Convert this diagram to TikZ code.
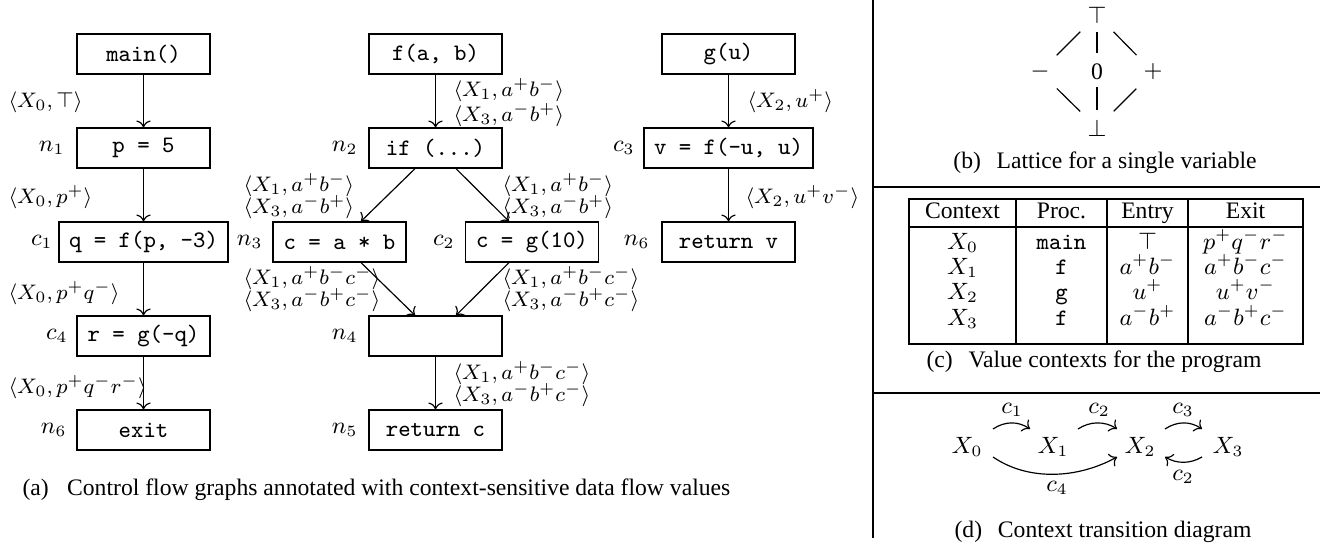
\documentclass[tikz,border=0pt]{standalone}
\usepackage{fontspec}
\setmainfont{Liberation Serif}
\usetikzlibrary{arrows.meta}
\begin{document}
\begin{tikzpicture}[x=0.38066pt,y=0.38066pt,
  box/.style={draw,line width=0.5pt,minimum width=50.63pt,minimum height=15.23pt,inner xsep=3.8pt,inner ysep=0pt,font=\fontsize{9}{10}\ttfamily},
  lab/.style={font=\fontsize{9}{10}\selectfont,inner sep=0pt},
  elab/.style={font=\fontsize{8.3}{9}\selectfont,inner sep=0pt,anchor=west},
  arr/.style={->,line width=0.45pt},
  captxt/.style={font=\fontsize{9}{10}\selectfont,inner sep=0pt},
  sep/.style={line width=0.5pt},
  lat/.style={line width=0.45pt},
  cell/.style={font=\fontsize{9}{10}\selectfont,inner sep=0pt,text height=6.3pt,text depth=1.8pt},
]
\useasboundingbox (0,0) rectangle (1324,546);

% ---------------- (a) column 1 ----------------
\node[box] (main) at (143.5,492) {main()};
\node[box] (n1b)  at (143.5,398) {p = 5};
\node[box] (c1b)  at (143.5,304) {q = f(p, -3)};
\node[box] (c4b)  at (143.5,210) {r = g(-q)};
\node[box] (exb)  at (143.5,116) {exit};
\node[lab,anchor=east] (ln1) at (65,398) {$n_1$};
\node[lab,anchor=east] (lc1) at (53,304) {$c_1$};
\node[lab,anchor=east] (lc4) at (68,210) {$c_4$};
\node[lab,anchor=east] (ln6a) at (67,116) {$n_6$};
\draw[arr] (main) -- (n1b);
\draw[arr] (n1b) -- (c1b);
\draw[arr] (c1b) -- (c4b);
\draw[arr] (c4b) -- (exb);
\node[elab] (e1) at (8,444) {$\langle X_0, \top\rangle$};
\node[elab] (e2) at (8,349) {$\langle X_0, p^+\rangle$};
\node[elab] (e3) at (8,253) {$\langle X_0, p^+q^-\rangle$};
\node[elab] (e4) at (8,159) {$\langle X_0, p^+q^-r^-\rangle$};

% ---------------- (a) column 2 ----------------
\node[box] (fab) at (435.5,492) {f(a, b)};
\node[box] (ifb) at (435.5,398) {if (...)};
\node[box] (n3b) at (339.5,304) {c = a * b};
\node[box] (c2b) at (532,304) {c = g(10)};
\node[box] (n4b) at (435.5,210) {};
\node[box] (n5b) at (435.5,116) {return c};
\node[lab,anchor=east] (ln2) at (358,398) {$n_2$};
\node[lab,anchor=east] (ln3) at (263,304) {$n_3$};
\node[lab,anchor=east] (lc2) at (455,304) {$c_2$};
\node[lab,anchor=east] (ln4) at (358,210) {$n_4$};
\node[lab,anchor=east] (ln5) at (358,116) {$n_5$};
\draw[arr] (fab) -- (ifb);
\draw[arr] ([shift={(-20.5,0)}]ifb.south) -- ([shift={(21.5,0)}]n3b.north);
\draw[arr] ([shift={(20.5,0)}]ifb.south) -- ([shift={(-23,0)}]c2b.north);
\draw[arr] ([shift={(21.5,0)}]n3b.south) -- ([shift={(-20.5,0)}]n4b.north);
\draw[arr] ([shift={(-23,0)}]c2b.south) -- ([shift={(20.5,0)}]n4b.north);
\draw[arr] (n4b) -- (n5b);
\node[elab] (f1) at (453,456) {$\langle X_1, a^+b^-\rangle$};
\node[elab] (f2) at (453,431) {$\langle X_3, a^-b^+\rangle$};
\node[elab] (l1) at (243,361) {$\langle X_1, a^+b^-\rangle$};
\node[elab] (l2) at (243,339) {$\langle X_3, a^-b^+\rangle$};
\node[elab] (r1) at (502,361) {$\langle X_1, a^+b^-\rangle$};
\node[elab] (r2) at (502,339) {$\langle X_3, a^-b^+\rangle$};
\node[elab] (l3) at (243,268) {$\langle X_1, a^+b^-c^-\rangle$};
\node[elab] (l4) at (243,246) {$\langle X_3, a^-b^+c^-\rangle$};
\node[elab] (r3) at (502,268) {$\langle X_1, a^+b^-c^-\rangle$};
\node[elab] (r4) at (502,246) {$\langle X_3, a^-b^+c^-\rangle$};
\node[elab] (b1) at (453,173) {$\langle X_1, a^+b^-c^-\rangle$};
\node[elab] (b2) at (453,151) {$\langle X_3, a^-b^+c^-\rangle$};

% ---------------- (a) column 3 ----------------
\node[box] (gub) at (728.5,492) {g(u)};
\node[box] (c3b) at (728.5,398) {v = f(-u, u)};
\node[box] (rvb) at (728.5,304) {return v};
\node[lab,anchor=east] (lc3) at (635,398) {$c_3$};
\node[lab,anchor=east] (ln6c) at (650,304) {$n_6$};
\draw[arr] (gub) -- (c3b);
\draw[arr] (c3b) -- (rvb);
\node[elab] (g1) at (747,445) {$\langle X_2, u^+\rangle$};
\node[elab] (g2) at (745,349) {$\langle X_2, u^+v^-\rangle$};

\node[captxt,anchor=west] (capa) at (22,56) {(a)\hspace{7pt}Control flow graphs annotated with context-sensitive data flow values};

% ---------------- separators ----------------
\draw[sep] (873,546) -- (873,8);
\draw[sep] (873,359) -- (1320,359);
\draw[sep] (873,153) -- (1320,153);

% ---------------- (b) lattice ----------------
\node[lab] (top)  at (1097,531) {$\top$};
\node[lab] (zero) at (1097,474) {0};
\node[lab] (mns)  at (1040,474) {$-$};
\node[lab] (pls)  at (1153,474) {$+$};
\node[lab] (bot)  at (1097,418) {$\bot$};
\draw[lat,shorten <=6.5pt,shorten >=7.2pt] (top.center) -- (zero.center);
\draw[lat,shorten <=5.7pt,shorten >=6.9pt] (zero.center) -- (bot.center);
\draw[lat,shorten <=9pt,shorten >=9pt] (top.center) -- (mns.center);
\draw[lat,shorten <=9pt,shorten >=9pt] (top.center) -- (pls.center);
\draw[lat,shorten <=9pt,shorten >=9pt] (mns.center) -- (bot.center);
\draw[lat,shorten <=9pt,shorten >=9pt] (pls.center) -- (bot.center);
\node[captxt] (capb) at (1105,383) {(b)\hspace{6pt}Lattice for a single variable};

% ---------------- (c) table ----------------
\draw[sep] (909,347) rectangle (1303,202);
\draw[sep] (909,319) -- (1303,319);
\draw[sep] (1016,347) -- (1016,202);
\draw[sep] (1107,347) -- (1107,202);
\draw[sep] (1188,347) -- (1188,202);
\node[cell] (h1) at (962.5,333) {Context};
\node[cell] (h2) at (1061.5,333) {Proc.};
\node[cell] (h3) at (1147.5,333) {Entry};
\node[cell] (h4) at (1245.5,333) {Exit};
\node[cell] (a1) at (962.5,302) {$X_0$};
\node[cell] (a2) at (1061.5,302) {\ttfamily main};
\node[cell] (a3) at (1147.5,302) {$\top$};
\node[cell] (a4) at (1245.5,302) {$p^+q^-r^-$};
\node[cell] (b1c) at (962.5,277) {$X_1$};
\node[cell] (b2c) at (1061.5,277) {\ttfamily f};
\node[cell] (b3c) at (1147.5,277) {$a^+b^-$};
\node[cell] (b4c) at (1245.5,277) {$a^+b^-c^-$};
\node[cell] (c1c) at (962.5,252) {$X_2$};
\node[cell] (c2c) at (1061.5,252) {\ttfamily g};
\node[cell] (c3c) at (1147.5,252) {$u^+$};
\node[cell] (c4c) at (1245.5,252) {$u^+v^-$};
\node[cell] (d1c) at (962.5,226) {$X_3$};
\node[cell] (d2c) at (1061.5,226) {\ttfamily f};
\node[cell] (d3c) at (1147.5,226) {$a^-b^+$};
\node[cell] (d4c) at (1245.5,226) {$a^-b^+c^-$};
\node[captxt] (capc) at (1094,184) {(c)\hspace{6pt}Value contexts for the program};

% ---------------- (d) transitions ----------------
\node[lab] (X0) at (967,99) {$X_0$};
\node[lab] (X1) at (1053,99) {$X_1$};
\node[lab] (X2) at (1140,99) {$X_2$};
\node[lab] (X3) at (1228,99) {$X_3$};
\draw[arr] ([shift={(26,18)}]X0.center) .. controls +(12,8) and +(-12,8) .. ([shift={(-23,18)}]X1.center);
\draw[arr] ([shift={(25,18)}]X1.center) .. controls +(12,8) and +(-12,8) .. ([shift={(-23,18)}]X2.center);
\draw[arr] ([shift={(25,18)}]X2.center) .. controls +(12,8) and +(-12,8) .. ([shift={(-26,18)}]X3.center);
\draw[arr] ([shift={(-26,-10)}]X3.center) .. controls +(-12,-7) and +(12,-7) .. ([shift={(25,-10)}]X2.center);
\draw[arr] ([shift={(26,-10)}]X0.center) .. controls +(35,-24) and +(-40,-22) .. ([shift={(-23,-10)}]X2.center);
\node[lab] (lc1d) at (1012,136) {$c_1$};
\node[lab] (lc2d) at (1099,136) {$c_2$};
\node[lab] (lc3d) at (1183,136) {$c_3$};
\node[lab] (lc2e) at (1183,69) {$c_2$};
\node[lab] (lc4d) at (1057,58) {$c_4$};
\node[captxt] (capd) at (1103,14) {(d)\hspace{6pt}Context transition diagram};
\end{tikzpicture}
\end{document}
